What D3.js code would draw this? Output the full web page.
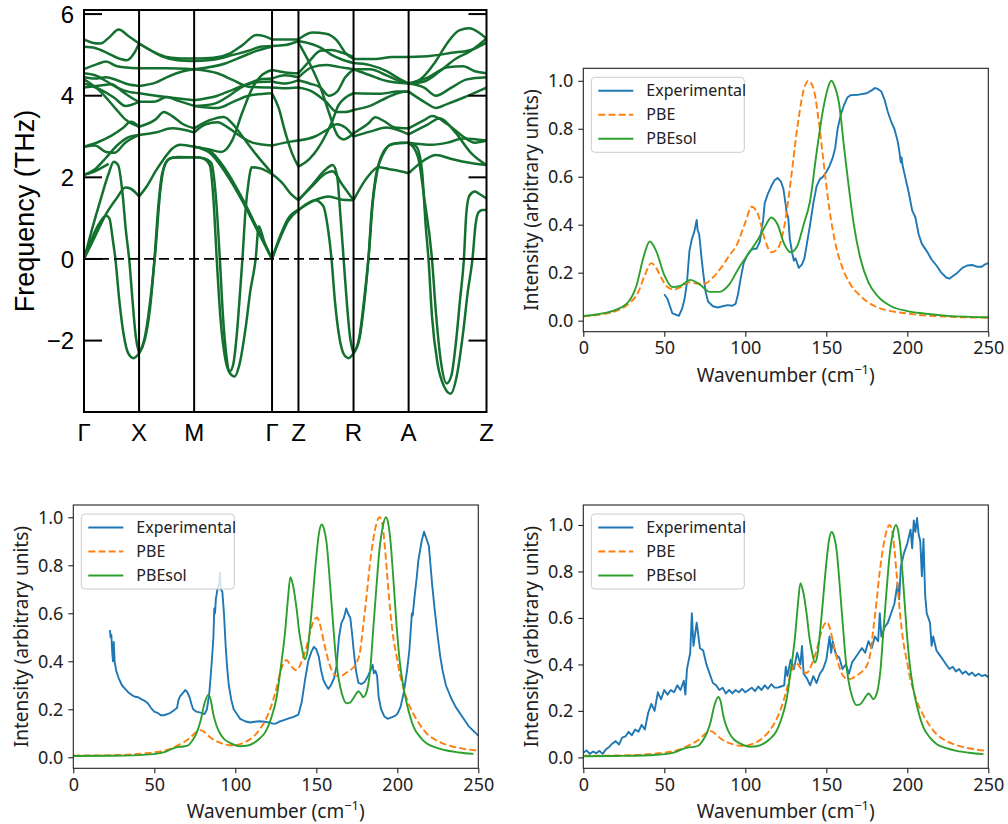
<!DOCTYPE html>
<html>
<head>
<meta charset="utf-8">
<script src="https://cdn.jsdelivr.net/npm/d3@7"></script>
<style>
  body { margin: 0; background: #ffffff; }
  svg { display: block; }
</style>
</head>
<body>
<svg id="fig" width="1008" height="824"></svg>
<script>
// ---------------- Phonon dispersion ----------------
const kLabels = ["Γ", "X", "M", "Γ", "Z", "R", "A", "Z"];
const kPositions = [0, 0.5, 1.0, 1.7071, 1.9471, 2.4471, 2.9471, 3.6542];
const freqTicks = [-2, 0, 2, 4, 6];

// Branches along each path segment: [fraction along segment, frequency (THz)]
const bandsGX = [
  [[0,5.38],[0.15,5.3],[0.3,5.28],[0.45,5.42],[0.63,5.62],[0.8,5.47],[1,5.28]],
  [[0,5.2],[0.2,5.17],[0.4,5.06],[0.6,4.93],[0.78,4.87],[0.9,5.02],[1,5.28]],
  [[0,4.65],[0.25,4.78],[0.4,4.84],[0.6,4.72],[1,4.67]],
  [[0,4.55],[0.2,4.5],[0.4,4.36],[0.6,4.2],[0.8,4.1],[1,4.06]],
  [[0,4.45],[0.2,4.42],[0.4,4.45],[0.6,4.38],[0.8,4.28],[1,4.24]],
  [[0,4.4],[0.3,4.1],[0.55,3.72],[0.75,3.42],[1,3.24]],
  [[0,4.3],[0.3,4.15],[0.55,3.95],[0.75,3.75],[1,3.85]],
  [[0,4.2],[0.3,4.25],[0.5,4.28],[0.7,4.1],[0.9,3.92],[1,3.85]],
  [[0,2.75],[0.2,2.78],[0.4,2.62],[0.55,2.6],[0.75,2.85],[1,3.04]],
  [[0,2.75],[0.25,2.86],[0.5,3.02],[0.7,3.2],[0.85,3.36],[1,3.24]],
  [[0,2.06],[0.2,2.2],[0.4,2.48],[0.6,2.78],[0.8,2.98],[1,3.04]],
  [[0,2.06],[0.15,2.12],[0.3,2.22],[0.45,2.33]],
  [[0,0],[0.15,0.75],[0.3,1.45],[0.45,2.1],[0.54,2.38],[0.62,2.3],[0.7,1.6],[0.76,0.7],[0.82,0],[0.88,-1.0],[0.94,-1.9],[1,-2.31]],
  [[0,0],[0.1,0.35],[0.2,0.68],[0.3,0.92],[0.4,1.06],[0.46,1.0],[0.52,0.5],[0.57,0],[0.64,-1.0],[0.72,-1.85],[0.8,-2.3],[0.9,-2.43],[1,-2.31]],
  [[0,0],[0.2,0.55],[0.4,1.1],[0.6,1.5],[0.75,1.75],[0.85,1.72],[1,1.53]]
];
const bandsXM = [
  [[0,5.28],[0.3,5.05],[0.5,4.95],[0.7,4.92],[1,4.91]],
  [[0,5.28],[0.2,5.12],[0.4,4.97],[0.7,4.87],[1,4.85]],
  [[0,4.67],[0.5,4.67],[1,4.65]],
  [[0,4.24],[0.3,4.32],[0.5,4.45],[0.8,4.6],[1,4.65]],
  [[0,4.06],[0.3,4.0],[0.6,3.95],[1,3.89]],
  [[0,3.85],[0.3,3.86],[0.5,3.97],[0.7,3.88],[1,3.75]],
  [[0,3.24],[0.3,3.42],[0.45,3.6],[0.6,3.5],[0.8,3.3],[1,3.2]],
  [[0,3.04],[0.3,3.1],[0.6,3.2],[1,3.1]],
  [[0,1.53],[0.15,1.8],[0.3,2.15],[0.45,2.45],[0.6,2.7],[0.75,2.8],[1,2.75]],
  [[0,-2.31],[0.1,-2.0],[0.2,-1.2],[0.28,0],[0.35,1.3],[0.42,2.1],[0.55,2.45],[0.7,2.5],[1,2.49]],
  [[0,-2.31],[0.1,-1.95],[0.2,-1.05],[0.3,0.25],[0.38,1.6],[0.48,2.35],[0.6,2.48],[1,2.49]]
];
const bandsMG = [
  [[0,4.91],[0.25,4.93],[0.46,5.04],[0.62,5.24],[0.8,5.49],[0.9,5.46],[1,5.38]],
  [[0,4.85],[0.3,4.9],[0.5,5.0],[0.7,5.1],[0.85,5.2],[1,5.22]],
  [[0,4.65],[0.4,4.79],[0.62,4.96],[0.8,5.1],[1,5.2]],
  [[0,4.65],[0.3,4.55],[0.5,4.38],[0.7,4.22],[1,4.2]],
  [[0,3.89],[0.3,4.0],[0.5,4.15],[0.7,4.3],[0.85,4.4],[1,4.42]],
  [[0,3.75],[0.25,3.8],[0.45,4.0],[0.6,4.2],[0.8,4.33],[1,4.35]],
  [[0,3.75],[0.3,3.7],[0.5,3.85],[0.7,4.0],[1,4.06]],
  [[0,3.2],[0.2,3.4],[0.38,3.48],[0.5,3.3],[0.62,3.0],[0.8,2.55],[1,2.1]],
  [[0,3.1],[0.15,3.3],[0.3,3.35],[0.45,3.2],[0.6,3.0],[0.75,2.85],[1,2.78]],
  [[0,2.75],[0.2,2.65],[0.4,2.2],[0.63,1.44],[0.8,0.79],[1,0]],
  [[0,2.75],[0.2,2.6],[0.4,2.12],[0.63,1.38],[0.8,0.74],[1,0]],
  [[0,2.75],[0.2,2.68],[0.35,2.62],[0.49,2.91],[0.62,3.6],[0.75,4.2],[0.85,4.47],[1,4.63]],
  [[0,2.49],[0.12,2.47],[0.22,2.35],[0.28,1.5],[0.33,0],[0.37,-1.4],[0.41,-2.3],[0.46,-2.75],[0.5,-2.6],[0.55,-1.8],[0.59,-0.8],[0.62,0],[0.66,1.2],[0.7,1.9],[0.74,2.25],[0.85,2.22],[1,2.08]],
  [[0,2.49],[0.1,2.47],[0.2,2.3],[0.25,1.4],[0.29,0],[0.34,-1.5],[0.4,-2.45],[0.46,-2.8],[0.52,-2.88],[0.58,-2.6],[0.66,-1.7],[0.72,-0.8],[0.79,0],[0.83,0.8],[0.9,0.42],[1,0]]
];
const bandsGZ = [
  [[0,5.38],[0.5,5.38],[1,5.38]],
  [[0,5.22],[0.5,5.24],[1,5.34]],
  [[0,4.63],[0.5,4.57],[1,4.55]],
  [[0,4.42],[0.5,4.5],[1,4.45]],
  [[0,4.35],[0.5,4.3],[1,4.38]],
  [[0,4.2],[0.5,4.18],[1,4.2]],
  [[0,4.06],[0.25,3.7],[0.5,3.1],[0.75,2.6],[1,2.26]],
  [[0,2.78],[0.5,2.85],[1,2.9]],
  [[0,2.08],[0.4,1.85],[0.7,1.6],[1,1.44]],
  [[0,0],[0.3,0.5],[0.6,0.92],[1,1.2]],
  [[0,0],[0.3,0.55],[0.6,0.98],[1,1.2]]
];
const bandsZR = [
  [[0,5.38],[0.25,5.55],[0.5,5.52],[0.7,5.35],[0.85,5.05],[1,4.9]],
  [[0,5.34],[0.2,5.28],[0.4,5.18],[0.6,5.0],[0.8,4.88],[1,4.8]],
  [[0,4.55],[0.2,4.85],[0.4,5.1],[0.6,5.12],[0.8,5.05],[1,4.95]],
  [[0,4.45],[0.25,4.7],[0.5,4.75],[0.75,4.7],[1,4.65]],
  [[0,4.38],[0.2,4.3],[0.4,4.2],[0.55,4.0],[0.7,4.1],[0.85,4.45],[1,4.65]],
  [[0,4.2],[0.25,4.1],[0.5,3.85],[0.7,3.6],[0.85,3.6],[1,3.65]],
  [[0,5.3],[0.2,4.8],[0.4,4.2],[0.55,3.6],[0.7,3.05],[0.82,2.93],[1,3.08]],
  [[0,2.9],[0.3,3.0],[0.5,3.15],[0.7,3.3],[0.85,3.22],[1,3.0]],
  [[0,2.26],[0.2,2.45],[0.35,2.7],[0.5,3.05],[0.62,3.4],[0.72,3.75],[0.85,3.95],[1,4.06]],
  [[0,1.44],[0.24,1.77],[0.5,2.1],[0.62,2.15],[0.78,1.85],[1,1.44]],
  [[0,1.44],[0.24,1.8],[0.5,2.2],[0.62,2.3],[0.7,2.05],[0.76,1.1],[0.82,0],[0.88,-1.1],[0.94,-1.95],[1,-2.31]],
  [[0,1.2],[0.3,1.44],[0.55,1.53],[0.8,1.45],[1,1.44]],
  [[0,1.2],[0.15,1.35],[0.3,1.44],[0.45,1.3],[0.54,0.7],[0.6,0],[0.66,-1.0],[0.74,-1.9],[0.83,-2.35],[0.91,-2.43],[1,-2.31]]
];
const bandsRA = [
  [[0,4.9],[0.4,4.9],[0.7,4.95],[1,4.95]],
  [[0,4.8],[0.3,4.75],[0.6,4.6],[0.85,4.4],[1,4.3]],
  [[0,4.65],[0.3,4.65],[0.6,4.5],[0.85,4.35],[1,4.3]],
  [[0,4.65],[0.3,4.5],[0.6,4.36],[1,4.3]],
  [[0,4.06],[0.5,4.05],[0.8,4.1],[1,4.1]],
  [[0,3.65],[0.3,3.75],[0.6,3.95],[0.85,4.08],[1,4.1]],
  [[0,3.08],[0.25,3.3],[0.4,3.47],[0.55,3.38],[0.75,3.22],[1,3.2]],
  [[0,3.0],[0.3,3.12],[0.6,3.22],[1,3.05]],
  [[0,1.44],[0.25,2.0],[0.45,2.25],[0.65,2.2],[0.85,2.15],[1,2.1]],
  [[0,-2.31],[0.1,-2.0],[0.2,-1.0],[0.27,0],[0.33,1.2],[0.4,2.0],[0.5,2.5],[0.65,2.78],[0.85,2.85],[1,2.85]],
  [[0,-2.31],[0.1,-1.95],[0.2,-0.9],[0.28,0.15],[0.35,1.4],[0.43,2.15],[0.55,2.6],[0.7,2.82],[1,2.85]]
];
const bandsAZ = [
  [[0,4.95],[0.3,4.98],[0.55,5.05],[0.8,5.12],[0.9,5.2],[1,5.3]],
  [[0,4.3],[0.15,4.4],[0.35,4.85],[0.5,5.3],[0.65,5.6],[0.78,5.65],[0.9,5.55],[1,5.4]],
  [[0,4.3],[0.2,4.35],[0.4,4.6],[0.6,4.9],[0.8,5.1],[1,5.4]],
  [[0,4.3],[0.25,4.45],[0.5,4.7],[0.7,4.72],[0.85,4.6],[1,4.55]],
  [[0,4.3],[0.2,4.2],[0.35,4.0],[0.55,4.2],[0.75,4.4],[1,4.45]],
  [[0,4.1],[0.2,3.85],[0.35,3.7],[0.5,3.8],[0.7,3.95],[1,4.2]],
  [[0,3.2],[0.2,3.4],[0.3,3.5],[0.5,3.3],[0.7,3.0],[0.85,2.85],[1,2.9]],
  [[0,3.05],[0.25,3.3],[0.4,3.45],[0.6,3.1],[0.8,2.6],[1,2.3]],
  [[0,2.85],[0.3,2.8],[0.5,2.85],[0.7,2.95],[1,2.9]],
  [[0,2.1],[0.2,2.42],[0.35,2.55],[0.55,2.45],[0.8,2.35],[1,2.3]],
  [[0,2.85],[0.1,2.75],[0.17,2.2],[0.22,0.8],[0.255,0],[0.3,-1.4],[0.37,-2.55],[0.45,-3.1],[0.54,-3.3],[0.62,-2.85],[0.7,-1.8],[0.76,-0.8],[0.82,0],[0.86,0.85],[0.9,1.15],[0.95,1.2],[1,1.2]],
  [[0,2.85],[0.12,2.5],[0.2,1.5],[0.3,0],[0.35,-1.3],[0.41,-2.45],[0.49,-3.05],[0.55,-2.85],[0.61,-2.0],[0.66,-1.0],[0.71,0],[0.74,1.1],[0.78,1.55],[0.85,1.65],[0.92,1.58],[1,1.48]]
];
const segmentBands = [bandsGX, bandsXM, bandsMG, bandsGZ, bandsZR, bandsRA, bandsAZ];

// ---------------- Raman spectra ----------------
const wavenumberTicks = [0, 50, 100, 150, 200, 250];
const intensityTicks = [0, 0.2, 0.4, 0.6, 0.8, 1.0];
const seriesNames = ["Experimental", "PBE", "PBEsol"];

// top-right panel
const expTop = [[50,0.11],[52,0.09],[53.5,0.06],[55,0.03],[57,0.025],[59,0.02],[61,0.05],[62.5,0.09],[64,0.16],[65.5,0.29],[67,0.34],[68.5,0.37],[70,0.42],[70.5,0.38],[71.5,0.36],[72,0.33],[73,0.26],[74,0.2],[75.5,0.12],[77,0.08],[80,0.06],[83,0.055],[86,0.06],[89,0.065],[92,0.062],[94,0.07],[95.5,0.11],[97,0.17],[99,0.24],[101,0.27],[103,0.29],[105,0.3],[107,0.3],[109,0.33],[111,0.42],[112,0.49],[114,0.53],[116,0.56],[118,0.585],[120,0.595],[122,0.58],[123.5,0.55],[125,0.48],[125.5,0.45],[126.5,0.43],[127.5,0.34],[129,0.28],[130,0.25],[131,0.26],[133,0.22],[135,0.235],[136.5,0.26],[138,0.32],[140,0.4],[142,0.49],[144,0.56],[146,0.59],[148,0.6],[150,0.62],[152,0.645],[154,0.68],[155.5,0.72],[157,0.8],[159,0.86],[161,0.9],[163,0.93],[165,0.94],[170,0.942],[175,0.948],[178,0.96],[180,0.97],[182,0.965],[184,0.955],[186,0.92],[188,0.87],[190,0.83],[192,0.8],[194,0.75],[195,0.71],[196,0.66],[196.5,0.68],[197,0.65],[199,0.59],[201,0.53],[203,0.46],[205,0.43],[207,0.36],[209,0.32],[212,0.29],[215,0.255],[218,0.23],[221,0.2],[224,0.18],[226,0.175],[228,0.185],[231,0.2],[234,0.22],[237,0.23],[240,0.232],[243,0.225],[246,0.225],[248,0.235],[250,0.24]];
const pbeTop = [[0,0.017],[10,0.025],[20,0.04],[28,0.07],[34,0.12],[38,0.19],[42,0.24],[45,0.22],[48,0.18],[52,0.14],[56,0.13],[60,0.14],[65,0.16],[70,0.155],[75,0.155],[80,0.18],[85,0.22],[90,0.27],[95,0.32],[100,0.41],[104,0.475],[108,0.44],[112,0.34],[116,0.285],[120,0.3],[124,0.39],[128,0.58],[132,0.8],[136,0.96],[139,1.0],[142,0.97],[145,0.85],[148,0.68],[152,0.46],[156,0.31],[160,0.22],[165,0.15],[170,0.11],[175,0.08],[180,0.06],[190,0.04],[200,0.03],[210,0.022],[220,0.018],[235,0.014],[250,0.012]];
const pbesolTop = [[0,0.02],[10,0.028],[20,0.045],[28,0.08],[33,0.15],[37,0.26],[41,0.33],[45,0.29],[50,0.19],[55,0.14],[60,0.145],[66,0.17],[72,0.15],[78,0.12],[84,0.12],[90,0.15],[96,0.22],[102,0.28],[108,0.34],[112,0.39],[116,0.43],[120,0.4],[124,0.32],[128,0.285],[132,0.31],[136,0.4],[140,0.5],[144,0.7],[148,0.88],[151,0.97],[153,1.0],[155,0.98],[158,0.9],[161,0.72],[164,0.55],[167,0.4],[171,0.26],[176,0.16],[182,0.1],[190,0.06],[200,0.04],[210,0.03],[225,0.02],[250,0.014]];

// bottom-left panel
const expLeft = [[22.6,0.53],[23,0.5],[23.5,0.51],[24,0.44],[24.5,0.4],[25,0.48],[25.5,0.4],[26.5,0.36],[28,0.33],[30,0.3],[32,0.285],[34,0.27],[36,0.26],[38,0.252],[40,0.25],[42,0.242],[44,0.235],[46,0.225],[48,0.205],[50,0.19],[52,0.185],[54,0.175],[56,0.175],[58,0.18],[60,0.185],[62,0.195],[64,0.205],[65,0.24],[66,0.255],[68,0.27],[69,0.28],[70,0.275],[71,0.262],[72,0.245],[73,0.22],[74,0.2],[76,0.19],[79,0.185],[81,0.18],[82.5,0.2],[84,0.27],[85.5,0.4],[86.5,0.5],[87,0.62],[87.5,0.6],[88,0.66],[89,0.7],[90,0.72],[90.5,0.77],[91,0.7],[92,0.69],[93,0.6],[94,0.47],[95,0.37],[96,0.3],[97.5,0.24],[99,0.2],[101,0.18],[103,0.16],[106,0.15],[109,0.145],[112,0.148],[115,0.15],[118,0.148],[121,0.145],[123,0.14],[125,0.14],[127,0.148],[130,0.155],[133,0.162],[136,0.168],[139,0.178],[141,0.23],[143,0.32],[145,0.4],[147,0.44],[148.5,0.46],[150,0.45],[151.5,0.42],[153,0.36],[154.5,0.32],[156,0.3],[157.5,0.285],[159,0.3],[161,0.33],[162.5,0.38],[164,0.5],[165.5,0.56],[167,0.58],[168.5,0.62],[169.5,0.6],[171,0.58],[172,0.52],[173,0.45],[174.5,0.36],[176,0.31],[178,0.305],[180,0.315],[182,0.34],[184,0.37],[184.8,0.385],[185.5,0.35],[186.5,0.36],[187.5,0.34],[188.5,0.25],[190,0.2],[192,0.17],[194,0.16],[196,0.165],[198,0.17],[200,0.18],[202,0.21],[204,0.27],[206,0.36],[207.5,0.45],[208.5,0.55],[209,0.6],[209.5,0.59],[210.5,0.66],[212,0.75],[213,0.82],[214,0.86],[215,0.9],[216.5,0.94],[217.5,0.92],[218.5,0.9],[219.5,0.88],[220.5,0.8],[221.5,0.72],[223,0.62],[225,0.5],[226.5,0.42],[228,0.36],[230,0.3],[233,0.25],[236,0.21],[240,0.17],[244,0.13],[247,0.11],[250,0.09]];

// bottom-right panel
const expRight = [[0,0.02],[2,0.03],[4,0.015],[6,0.025],[8,0.018],[10,0.028],[12,0.015],[14,0.035],[16,0.045],[18,0.06],[20,0.07],[22,0.055],[24,0.085],[26,0.09],[28,0.11],[30,0.095],[32,0.12],[34,0.11],[36,0.14],[38,0.12],[40,0.19],[42,0.23],[44,0.2],[46,0.28],[48,0.25],[50,0.29],[52,0.27],[54,0.29],[56,0.28],[58,0.31],[60,0.29],[62,0.33],[63,0.27],[64,0.38],[66,0.45],[67,0.62],[68,0.48],[70,0.58],[72,0.47],[74,0.46],[76,0.4],[78,0.36],[80,0.32],[82,0.31],[84,0.29],[86,0.3],[88,0.275],[90,0.29],[92,0.275],[94,0.29],[96,0.28],[98,0.295],[100,0.28],[102,0.29],[104,0.3],[106,0.285],[108,0.305],[110,0.29],[112,0.31],[114,0.295],[116,0.315],[118,0.3],[120,0.3],[122,0.305],[124,0.31],[125,0.39],[126,0.35],[128,0.42],[130,0.38],[132,0.45],[134,0.4],[135,0.48],[136,0.36],[138,0.34],[140,0.31],[142,0.35],[144,0.32],[146,0.36],[148,0.38],[150,0.42],[152,0.52],[153,0.45],[154,0.5],[156,0.44],[158,0.43],[160,0.38],[162,0.4],[164,0.36],[166,0.41],[168,0.43],[170,0.45],[172,0.47],[174,0.45],[176,0.5],[178,0.47],[180,0.52],[182,0.5],[183,0.62],[184,0.52],[186,0.56],[188,0.58],[190,0.62],[192,0.66],[194,0.75],[195,0.68],[196,0.82],[198,0.88],[200,0.92],[202,0.98],[203,0.9],[204,1.02],[205,0.97],[206,1.03],[207,0.96],[208,0.93],[209,0.78],[210,0.94],[211,0.7],[212,0.62],[214,0.58],[215,0.48],[216,0.52],[218,0.46],[220,0.44],[222,0.42],[224,0.4],[226,0.38],[228,0.39],[230,0.37],[232,0.38],[234,0.36],[236,0.37],[238,0.355],[240,0.365],[242,0.35],[244,0.36],[246,0.35],[248,0.355],[250,0.345]];

// calculated spectra shared by both lower panels
const pbeBottom = [[0,0.007],[20,0.008],[37,0.012],[45,0.017],[53.5,0.024],[60,0.035],[64,0.048],[68,0.062],[72,0.08],[75,0.1],[78,0.113],[80,0.11],[82,0.098],[85,0.08],[88.5,0.066],[92,0.057],[96.7,0.05],[100,0.05],[103,0.055],[107,0.066],[111,0.085],[115,0.115],[119,0.16],[122,0.21],[125.5,0.29],[128,0.36],[130,0.395],[131.7,0.405],[133.5,0.39],[135.8,0.37],[137.5,0.363],[139,0.37],[141,0.4],[144,0.46],[146.5,0.53],[149,0.575],[150.5,0.582],[152,0.56],[155,0.47],[158,0.39],[160.5,0.35],[163.6,0.337],[166,0.34],[168,0.35],[170.8,0.362],[173,0.375],[175,0.395],[177,0.44],[179,0.55],[181,0.67],[183,0.8],[185,0.9],[187,0.97],[189,1.0],[190.5,0.98],[192,0.9],[193.5,0.78],[195.5,0.62],[197.5,0.5],[199.6,0.42],[201.5,0.35],[203.7,0.29],[206,0.24],[210,0.18],[214,0.135],[218,0.1],[223,0.075],[228,0.058],[233,0.047],[238.7,0.038],[244,0.032],[249,0.028]];
const pbesolBottom = [[0,0.005],[20,0.006],[37,0.008],[45,0.011],[53.5,0.017],[58,0.026],[61.7,0.037],[65,0.043],[68,0.045],[71,0.05],[73.5,0.07],[76,0.1],[78.5,0.15],[81,0.225],[83.3,0.26],[84.8,0.24],[86.4,0.18],[88.5,0.13],[90.5,0.1],[93,0.077],[96.7,0.06],[100,0.05],[103,0.046],[107,0.048],[111,0.058],[115,0.078],[119,0.11],[122,0.16],[125.5,0.25],[128,0.37],[130.7,0.52],[132.5,0.66],[134,0.75],[135.5,0.72],[137.9,0.615],[139.5,0.52],[141,0.46],[143,0.408],[144.5,0.44],[146,0.53],[148,0.68],[150,0.835],[151.8,0.94],[153.3,0.97],[154.8,0.95],[156.4,0.89],[158.5,0.72],[160.5,0.545],[162,0.42],[163.6,0.335],[166,0.26],[168.7,0.225],[170.8,0.228],[172.8,0.245],[175,0.268],[176,0.275],[177.5,0.265],[179,0.25],[180.5,0.262],[182,0.3],[183.5,0.38],[185,0.52],[187,0.7],[189,0.865],[191,0.96],[193,1.0],[194.5,0.97],[195.5,0.92],[197.5,0.75],[199.6,0.545],[201.5,0.4],[203.7,0.295],[206,0.22],[210,0.128],[214,0.085],[218,0.058],[224,0.04],[230.5,0.028],[238,0.02],[247,0.014]];

// ---------------- drawing ----------------
const svg = d3.select("#fig");
const bandColor = "#13702f";
const seriesColors = ["#1f77b4", "#ff7f0e", "#2ca02c"];

function drawBands() {
  const box = { left: 84, right: 486.5, top: 10, bottom: 412 };
  const x = d3.scaleLinear().domain([0, kPositions[kPositions.length - 1]]).range([box.left, box.right]);
  const y = d3.scaleLinear().domain([-3.75, 6.1]).range([box.bottom, box.top]);
  const g = svg.append("g");

  g.append("clipPath").attr("id", "bandClip")
    .append("rect").attr("x", box.left).attr("y", box.top)
    .attr("width", box.right - box.left).attr("height", box.bottom - box.top);

  const line = d3.line().curve(d3.curveMonotoneX)
    .x(d => x(d[0])).y(d => y(d[1]));
  const lines = g.append("g").attr("clip-path", "url(#bandClip)");
  segmentBands.forEach((branches, s) => {
    const q0 = kPositions[s], q1 = kPositions[s + 1];
    branches.forEach(br => {
      const pts = br.map(p => [q0 + p[0] * (q1 - q0), p[1]]);
      lines.append("path").attr("d", line(pts))
        .attr("fill", "none").attr("stroke", bandColor)
        .attr("stroke-width", 2.5).attr("stroke-linejoin", "round");
    });
  });

  // zero-frequency reference
  g.append("line").attr("x1", box.left).attr("x2", box.right)
    .attr("y1", y(0)).attr("y2", y(0))
    .attr("stroke", "#000").attr("stroke-width", 1.7).attr("stroke-dasharray", "10,5");

  // high-symmetry verticals
  kPositions.slice(1, -1).forEach(q => {
    g.append("line").attr("x1", x(q)).attr("x2", x(q))
      .attr("y1", box.top).attr("y2", box.bottom)
      .attr("stroke", "#000").attr("stroke-width", 2);
  });

  // frame
  g.append("rect").attr("x", box.left).attr("y", box.top)
    .attr("width", box.right - box.left).attr("height", box.bottom - box.top)
    .attr("fill", "none").attr("stroke", "#000").attr("stroke-width", 2);

  // inward ticks on both sides
  freqTicks.forEach(t => {
    g.append("line").attr("x1", box.left).attr("x2", box.left + 18)
      .attr("y1", y(t)).attr("y2", y(t)).attr("stroke", "#000").attr("stroke-width", 2);
    g.append("line").attr("x1", box.right - 18).attr("x2", box.right)
      .attr("y1", y(t)).attr("y2", y(t)).attr("stroke", "#000").attr("stroke-width", 2);
    g.append("text").attr("x", box.left - 10).attr("y", y(t))
      .attr("dy", "0.36em").attr("text-anchor", "end")
      .attr("font-family", "Liberation Sans, Arial, sans-serif").attr("font-size", 24)
      .text(t < 0 ? "\u2212" + Math.abs(t) : String(t));
  });

  kLabels.forEach((lab, i) => {
    g.append("text").attr("x", x(kPositions[i])).attr("y", 441)
      .attr("text-anchor", "middle")
      .attr("font-family", "Liberation Sans, Arial, sans-serif").attr("font-size", 24)
      .text(lab);
  });

  g.append("text")
    .attr("transform", `translate(34,${(box.top + box.bottom) / 2}) rotate(-90)`)
    .attr("text-anchor", "middle")
    .attr("font-family", "Liberation Sans, Arial, sans-serif").attr("font-size", 27)
    .text("Frequency (THz)");
}

function drawSpectrum(cfg) {
  const { box, yDomain, series, id } = cfg;
  const font = "Noto Sans, DejaVu Sans, sans-serif";
  const x = d3.scaleLinear().domain([0, 250]).range([box.left, box.right]);
  const y = d3.scaleLinear().domain(yDomain).range([box.bottom, box.top]);
  const g = svg.append("g");

  g.append("clipPath").attr("id", id)
    .append("rect").attr("x", box.left).attr("y", box.top)
    .attr("width", box.right - box.left).attr("height", box.bottom - box.top);

  const plot = g.append("g").attr("clip-path", `url(#${id})`);
  const smooth = d3.line().curve(d3.curveMonotoneX).x(d => x(d[0])).y(d => y(d[1]));
  const raw = d3.line().x(d => x(d[0])).y(d => y(d[1]));

  series.forEach((data, i) => {
    plot.append("path").attr("d", (i === 0 ? raw : smooth)(data))
      .attr("fill", "none").attr("stroke", seriesColors[i])
      .attr("stroke-width", 1.9)
      .attr("stroke-linejoin", "round")
      .attr("stroke-dasharray", i === 1 ? "7,3.2" : null);
  });

  // axes
  const xAxis = d3.axisBottom(x).tickValues(wavenumberTicks).tickSize(5).tickPadding(5)
    .tickFormat(d3.format("d"));
  const yAxis = d3.axisLeft(y).tickValues(intensityTicks).tickSize(5).tickPadding(5)
    .tickFormat(d3.format(".1f"));
  const gx = g.append("g").attr("transform", `translate(0,${box.bottom})`).call(xAxis);
  const gy = g.append("g").attr("transform", `translate(${box.left},0)`).call(yAxis);
  [gx, gy].forEach(a => {
    a.select(".domain").remove();
    a.selectAll(".tick line").attr("stroke", "#222").attr("stroke-width", 1.1);
    a.selectAll(".tick text").attr("font-family", font).attr("font-size", 18).attr("fill", "#222");
  });

  g.append("rect").attr("x", box.left).attr("y", box.top)
    .attr("width", box.right - box.left).attr("height", box.bottom - box.top)
    .attr("fill", "none").attr("stroke", "#222").attr("stroke-width", 1.1);

  // axis titles
  const xt = g.append("text").attr("x", (box.left + box.right) / 2).attr("y", box.bottom + 50)
    .attr("text-anchor", "middle").attr("font-family", font).attr("font-size", 19).attr("fill", "#222");
  xt.append("tspan").text("Wavenumber (cm");
  xt.append("tspan").attr("font-size", 13).attr("dy", -8).text("\u22121");
  xt.append("tspan").attr("dy", 8).text(")");

  g.append("text")
    .attr("transform", `translate(${box.left - 45},${(box.top + box.bottom) / 2}) rotate(-90)`)
    .attr("text-anchor", "middle").attr("font-family", font).attr("font-size", 19).attr("fill", "#222")
    .text("Intensity (arbitrary units)");

  // legend
  const lg = g.append("g").attr("transform", `translate(${box.left + 8},${box.top + 9})`);
  lg.append("rect").attr("width", 153).attr("height", 75).attr("rx", 3.5)
    .attr("fill", "#fff").attr("fill-opacity", 0.8)
    .attr("stroke", "#cccccc").attr("stroke-width", 1);
  seriesNames.forEach((name, i) => {
    const yy = 13.5 + i * 24;
    lg.append("line").attr("x1", 7).attr("x2", 42).attr("y1", yy).attr("y2", yy)
      .attr("stroke", seriesColors[i]).attr("stroke-width", 1.9)
      .attr("stroke-dasharray", i === 1 ? "7,3.2" : null);
    lg.append("text").attr("x", 55).attr("y", yy).attr("dy", "0.35em")
      .attr("font-family", font).attr("font-size", 16).attr("fill", "#222").text(name);
  });
}

drawBands();
drawSpectrum({ id: "clipTR", box: { left: 583.3, right: 988.3, top: 68.3, bottom: 331.7 },
  yDomain: [-0.046, 1.052], series: [expTop, pbeTop, pbesolTop] });
drawSpectrum({ id: "clipBL", box: { left: 73.3, right: 478.3, top: 505, bottom: 768.3 },
  yDomain: [-0.046, 1.051], series: [expLeft, pbeBottom, pbesolBottom] });
drawSpectrum({ id: "clipBR", box: { left: 583.3, right: 988.3, top: 505, bottom: 768.3 },
  yDomain: [-0.047, 1.086], series: [expRight, pbeBottom, pbesolBottom] });
</script>
</body>
</html>
